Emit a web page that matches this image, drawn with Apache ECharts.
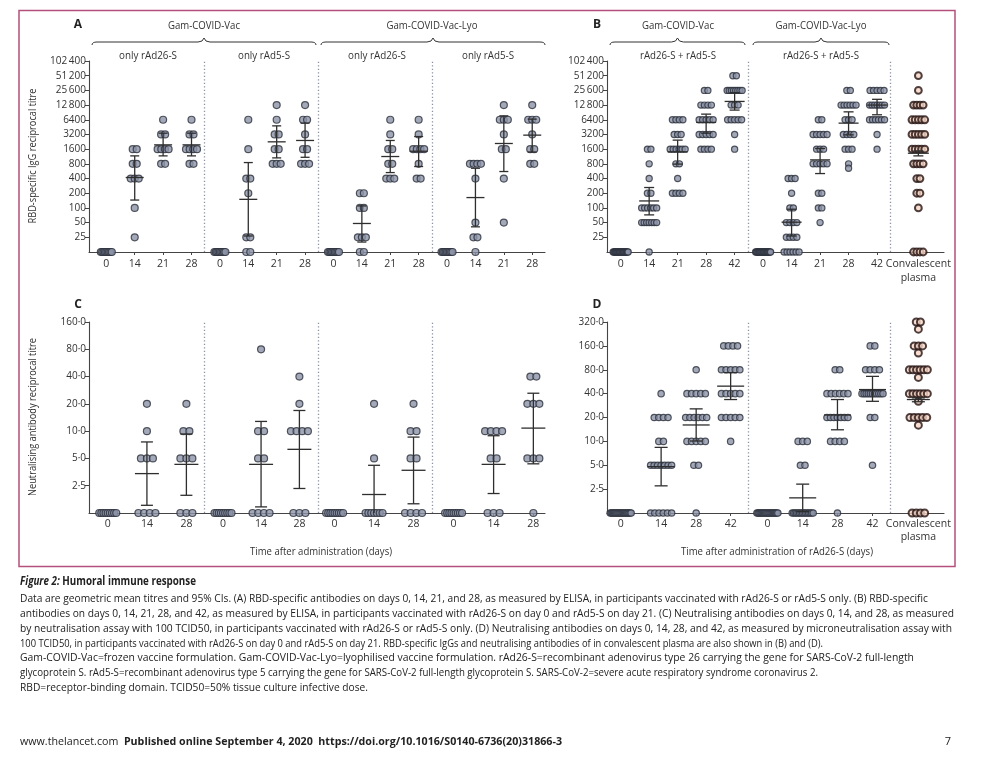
<!DOCTYPE html>
<html><head><meta charset="utf-8">
<script src="https://cdn.jsdelivr.net/npm/echarts@6/dist/echarts.min.js"></script>
<style>html,body{margin:0;padding:0;background:#fff}#chart{width:985px;height:775px}</style>
</head><body><div id="chart"></div>
<script>
// ================= DATA =================
const A_DAYS = ['0','14','21','28'];
const B_DAYS = ['0','14','21','28','42'];
const C_DAYS = ['0','14','28'];
const D_DAYS = ['0','14','28','42'];
const AB_TICKS = ['25','50','100','200','400','800','1600','3200','6400','12\u2009800','25\u2009600','51\u2009200','102\u2009400'];
const C_TICKS = ['2·5','5·0','10·0','20·0','40·0','80·0','160·0'];
const D_TICKS = ['2·5','5·0','10·0','20·0','40·0','80·0','160·0','320·0'];
const CONV_LABEL = 'Convalescent\nplasma';

// Panel A – RBD IgG, n=9 per group; rows = days 0,14,21,28
const A_VAC_26 = [
  [0,0,0,0,0,0,0,0,0],
  [1600,1600,800,800,400,400,400,100,25],
  [6400,3200,3200,1600,1600,1600,1600,800,800],
  [6400,3200,3200,1600,1600,1600,1600,800,800]];
const A_VAC_26_GMT = [null,420,1960,1960], A_VAC_26_LO = [null,145,1165,1165], A_VAC_26_HI = [null,1165,3400,3400];
const A_VAC_5 = [
  [0,0,0,0,0,0,0,0,0],
  [6400,1600,400,400,200,25,25,0,0],
  [12800,6400,3200,3200,1600,1600,800,800,800],
  [12800,6400,6400,3200,1600,1600,800,800,800]];
const A_VAC_5_GMT = [null,150,2260,2410], A_VAC_5_LO = [null,26.6,1060,1090], A_VAC_5_HI = [null,850,4800,5460];
const A_LYO_26 = [
  [0,0,0,0,0,0,0,0,0],
  [200,200,100,100,25,25,25,0,0],
  [6400,3200,1600,1600,800,800,400,400,400],
  [6400,3200,1600,1600,1600,1600,800,400,400]];
const A_LYO_26_GMT = [null,48,1130,1450], A_LYO_26_LO = [null,20,530,705], A_LYO_26_HI = [null,110,2410,2900];
const A_LYO_5 = [
  [0,0,0,0,0,0,0,0,0],
  [800,800,800,800,400,50,25,25,0],
  [12800,6400,6400,6400,3200,1600,1600,400,50],
  [12800,6400,6400,6400,3200,1600,1600,800,800]];
const A_LYO_5_GMT = [null,163,2090,3100], A_LYO_5_LO = [null,41,557,1400], A_LYO_5_HI = [null,650,7700,6600];

// Panel B – RBD IgG, prime-boost, n=20; rows = days 0,14,21,28,42
const B_VAC = [
  [0,0,0,0,0,0,0,0,0,0,0,0,0,0,0,0,0,0,0,0],
  [1600,1600,800,400,200,200,100,100,100,100,100,100,50,50,50,50,50,50,50,0],
  [6400,6400,6400,6400,3200,3200,3200,1600,1600,1600,1600,1600,1600,800,800,400,200,200,200,200],
  [25600,25600,12800,12800,12800,12800,6400,6400,6400,6400,6400,3200,3200,3200,3200,3200,1600,1600,1600,1600],
  [51200,51200,25600,25600,25600,25600,25600,25600,25600,25600,12800,12800,12800,6400,6400,6400,6400,6400,3200,1600]];
const B_VAC_GMT = [null,139,1410,5650,15200], B_VAC_LO = [null,72,790,3400,10100], B_VAC_HI = [null,262,2450,8350,23000];
const B_LYO = [
  [0,0,0,0,0,0,0,0,0,0,0,0,0,0,0,0,0,0,0,0],
  [400,400,400,200,100,100,50,50,50,50,25,25,25,25,0,0,0,0,0,0],
  [6400,6400,3200,3200,3200,3200,3200,1600,1600,1600,800,800,800,800,800,200,200,100,100,50],
  [25600,25600,12800,12800,12800,12800,12800,12800,6400,6400,6400,3200,3200,3200,3200,1600,1600,1600,800,650],
  [25600,25600,25600,25600,25600,12800,12800,12800,12800,12800,12800,12800,6400,6400,6400,6400,6400,6400,3200,1600]];
const B_LYO_GMT = [null,51,965,5460,12800], B_LYO_LO = [null,26.6,506,3140,8100], B_LYO_HI = [null,94,1650,9300,16800];
const B_CONV = [51200,25600,12800,12800,12800,12800,6400,6400,6400,6400,6400,3200,3200,3200,3200,3200,
  1600,1600,1600,1600,1600,800,800,800,800,400,400,200,200,100,0,0,0,0];
const B_CONV_GMT = 1320, B_CONV_LO = 1165, B_CONV_HI = 1470;

// Panel C – neutralising antibodies, n=9; rows = days 0,14,28
const C_VAC_26 = [[0,0,0,0,0,0,0,0,0],[20,10,5,5,5,0,0,0,0],[20,10,10,5,5,5,0,0,0]];
const C_VAC_26_GMT = [null,3.4,4.3], C_VAC_26_LO = [null,1.52,1.96], C_VAC_26_HI = [null,7.6,9.3];
const C_VAC_5 = [[0,0,0,0,0,0,0,0,0],[80,10,10,5,5,0,0,0,0],[40,20,10,10,10,10,0,0,0]];
const C_VAC_5_GMT = [null,4.3,6.3], C_VAC_5_LO = [null,1.46,2.33], C_VAC_5_HI = [null,12.8,16.9];
const C_LYO_26 = [[0,0,0,0,0,0,0,0,0],[20,5,0,0,0,0,0,0,0],[20,10,10,5,5,0,0,0,0]];
const C_LYO_26_GMT = [null,2.0,3.7], C_LYO_26_LO = [null,0.93,1.58], C_LYO_26_HI = [null,4.2,8.6];
const C_LYO_5 = [[0,0,0,0,0,0,0,0,0],[10,10,10,10,5,5,0,0,0],[40,40,20,20,20,5,5,5,0]];
const C_LYO_5_GMT = [null,4.3,10.8], C_LYO_5_LO = [null,2.05,4.36], C_LYO_5_HI = [null,8.9,26.2];

// Panel D – neutralising antibodies, prime-boost, n=20; rows = days 0,14,28,42
const D_VAC = [
  [0,0,0,0,0,0,0,0,0,0,0,0,0,0,0,0,0,0,0,0],
  [40,20,20,20,20,10,10,5,5,5,5,5,5,5,0,0,0,0,0,0],
  [80,40,40,40,40,40,20,20,20,20,20,20,10,10,10,10,10,5,5,0],
  [160,160,160,160,80,80,80,80,80,40,40,40,40,40,20,20,20,20,20,10]];
const D_VAC_GMT = [null,4.8,16.1,49.7], D_VAC_LO = [null,2.75,10.1,33.7], D_VAC_HI = [null,8.4,25.7,73.6];
const D_LYO = [
  [0,0,0,0,0,0,0,0,0,0,0,0,0,0,0,0,0,0,0,0],
  [10,10,10,5,5,0,0,0,0,0,0,0,0,0,0,0,0,0,0,0],
  [80,80,40,40,40,40,40,40,20,20,20,20,20,20,20,10,10,10,10,0],
  [160,160,80,80,80,80,40,40,40,40,40,40,40,40,40,40,40,20,20,5]];
const D_LYO_GMT = [null,1.94,21.5,45], D_LYO_LO = [null,1.3,14,32], D_LYO_HI = [null,2.89,33.7,66];
const D_CONV = [320,320,260,160,160,160,130,80,80,80,80,80,80,64,40,40,40,40,40,40,32,20,20,20,20,20,16,0,0,0,0];
const D_CONV_GMT = 33.7, D_CONV_LO = 31.6, D_CONV_HI = 35.4;

// ================= LAYOUT =================
const FONT = '"Open Sans", "DejaVu Sans", sans-serif';
const DOT = {color:'#8d93a7', borderColor:'#2b2f3b', borderWidth:1.2};
const CONVDOT = {color:'#f5d6c6', borderColor:'#241210', borderWidth:2};
const INK = '#333333';
const C_POS = [[0.05,1.43,2.82],[4.11,5.45,6.8],[8.04,9.43,10.82],[12.23,13.64,15.04]];
const D_POS = [[0,1.42,2.65,3.86],[5.15,6.39,7.61,8.84]];
const CONV_X = 10.45;
const SEP_AC = [3.45, 7.45, 11.49];
const SEP_BD = [4.48, 9.48];
const CFG = {
  A:{sp:4, max:11, unit:28.4, size:7, mean:18, cap:9},
  B:{sp:3.5, max:15, unit:28.5, size:6.2, mean:20, cap:10},
  Bc:{sp:3.2, max:14, unit:28.5, size:6.8},
  C:{sp:6, max:17, unit:28.4, size:7, mean:24, cap:12},
  D:{sp:4.6, max:21, unit:28.5, size:6.4, mean:27, cap:13},
  Dc:{sp:4.2, max:18, unit:28.5, size:7}
};

function lv(v, base){ return v > 0 ? Math.log2(v / base) : -1; }
function swarm(values, cx, base, cfg, out){
  const counts = new Map();
  values.forEach(v => counts.set(v, (counts.get(v) || 0) + 1));
  counts.forEach((m, v) => {
    const span = m > 1 ? Math.min((m - 1) * cfg.sp, cfg.max) : 0;
    const step = m > 1 ? span / (m - 1) : 0;
    for (let k = 0; k < m; k++) out.push([cx + (-span / 2 + k * step) / cfg.unit, lv(v, base)]);
  });
}
function bar(x, g, lo, hi, base, out){ if (g != null) out.push([x, lv(g, base), lv(lo, base), lv(hi, base)]); }

function renderBars(cfg, yMin, meanW){
  return function(params, api){
    const x = api.value(0), m = api.value(1), lo = api.value(2), hi = api.value(3);
    const pm = api.coord([x, m]), ph = api.coord([x, hi]), pl = api.coord([x, Math.max(lo, yMin)]);
    const st = {stroke:'#2e2e2e', lineWidth:1.3};
    const mw = meanW || cfg.mean;
    const ch = [
      {type:'line', shape:{x1:pm[0], y1:ph[1], x2:pm[0], y2:pl[1]}, style:st},
      {type:'line', shape:{x1:pm[0]-cfg.cap/2, y1:ph[1], x2:pm[0]+cfg.cap/2, y2:ph[1]}, style:st},
      {type:'line', shape:{x1:pm[0]-mw/2, y1:pm[1], x2:pm[0]+mw/2, y2:pm[1]}, style:st}];
    if (lo >= yMin) ch.push({type:'line', shape:{x1:pm[0]-cfg.cap/2, y1:pl[1], x2:pm[0]+cfg.cap/2, y2:pl[1]}, style:st});
    return {type:'group', children:ch};
  };
}

// ---- build points ----
const ptsA = [], barsA = [];
[[A_VAC_26,A_VAC_26_GMT,A_VAC_26_LO,A_VAC_26_HI],[A_VAC_5,A_VAC_5_GMT,A_VAC_5_LO,A_VAC_5_HI],
 [A_LYO_26,A_LYO_26_GMT,A_LYO_26_LO,A_LYO_26_HI],[A_LYO_5,A_LYO_5_GMT,A_LYO_5_LO,A_LYO_5_HI]].forEach((s, g) => {
  s[0].forEach((vals, d) => { const x = g * 4 + d; swarm(vals, x, 25, CFG.A, ptsA); bar(x, s[1][d], s[2][d], s[3][d], 25, barsA); });
});
const ptsB = [], barsB = [], ptsBc = [], barsBc = [];
[[B_VAC,B_VAC_GMT,B_VAC_LO,B_VAC_HI],[B_LYO,B_LYO_GMT,B_LYO_LO,B_LYO_HI]].forEach((s, g) => {
  s[0].forEach((vals, d) => { const x = g * 5 + d; swarm(vals, x, 25, CFG.B, ptsB); bar(x, s[1][d], s[2][d], s[3][d], 25, barsB); });
});
swarm(B_CONV, CONV_X, 25, CFG.Bc, ptsBc); bar(CONV_X, B_CONV_GMT, B_CONV_LO, B_CONV_HI, 25, barsBc);
const ptsC = [], barsC = [];
[[C_VAC_26,C_VAC_26_GMT,C_VAC_26_LO,C_VAC_26_HI],[C_VAC_5,C_VAC_5_GMT,C_VAC_5_LO,C_VAC_5_HI],
 [C_LYO_26,C_LYO_26_GMT,C_LYO_26_LO,C_LYO_26_HI],[C_LYO_5,C_LYO_5_GMT,C_LYO_5_LO,C_LYO_5_HI]].forEach((s, g) => {
  s[0].forEach((vals, d) => { const x = C_POS[g][d]; swarm(vals, x, 2.5, CFG.C, ptsC); bar(x, s[1][d], s[2][d], s[3][d], 2.5, barsC); });
});
const ptsD = [], barsD = [], ptsDc = [], barsDc = [];
[[D_VAC,D_VAC_GMT,D_VAC_LO,D_VAC_HI],[D_LYO,D_LYO_GMT,D_LYO_LO,D_LYO_HI]].forEach((s, g) => {
  s[0].forEach((vals, d) => { const x = D_POS[g][d]; swarm(vals, x, 2.5, CFG.D, ptsD); bar(x, s[1][d], s[2][d], s[3][d], 2.5, barsD); });
});
swarm(D_CONV, CONV_X, 2.5, CFG.Dc, ptsDc); bar(CONV_X, D_CONV_GMT, D_CONV_LO, D_CONV_HI, 2.5, barsDc);

// ---- axes ----
function nearestLabel(list, labels){ return v => { let bi = 0; list.forEach((p, i) => { if (Math.abs(p - v) < Math.abs(list[bi] - v)) bi = i; }); return labels[bi]; }; }
const A_XV = [...Array(16).keys()];
const A_XL = A_XV.map(i => A_DAYS[i % 4]);
const B_XV = [...Array(10).keys(), CONV_X];
const B_XL = B_XV.map((v, i) => i < 10 ? B_DAYS[i % 5] : CONV_LABEL);
const C_XV = C_POS.flat();
const C_XL = C_XV.map((v, i) => C_DAYS[i % 3]);
const D_XV = [...D_POS.flat(), CONV_X];
const D_XL = D_XV.map((v, i) => i < 8 ? D_DAYS[i % 4] : CONV_LABEL);

function xAx(gi, min, max, vals, labels, lh){
  return {type:'value', gridIndex:gi, min, max,
    axisLine:{show:true, onZero:false, lineStyle:{color:'#444', width:1.1}},
    axisTick:{show:true, customValues:vals, length:3, lineStyle:{color:'#444', width:1}},
    axisLabel:{show:true, customValues:vals, formatter:nearestLabel(vals, labels), color:'#333', fontSize:10.5, fontFamily:FONT, margin:5, lineHeight:lh},
    splitLine:{show:false}};
}
function yAx(gi, max, labels){
  const vals = labels.map((_, i) => i);
  return {type:'value', gridIndex:gi, min:-1, max,
    axisLine:{show:true, onZero:false, lineStyle:{color:'#444', width:1.1}},
    axisTick:{show:true, customValues:vals, length:4, lineStyle:{color:'#444', width:1}},
    axisLabel:{show:true, customValues:vals, formatter:v => labels[Math.round(v)], color:'#333', fontSize:10, fontFamily:FONT, margin:3},
    splitLine:{show:false}};
}

function sepLine(seps){
  return {silent:true, symbol:['none','none'], label:{show:false}, animation:false,
    lineStyle:{type:[1.3,2.2], color:'#8d92a0', width:1.3}, data:seps.map(x => ({xAxis:x}))};
}
function dots(i, data, cfg, style, seps){
  const s = {type:'scatter', xAxisIndex:i, yAxisIndex:i, data, symbolSize:cfg.size, itemStyle:style, z:3, silent:true};
  if (seps) s.markLine = sepLine(seps);
  return s;
}
function bars(i, data, cfg, yMin, meanW){
  return {type:'custom', xAxisIndex:i, yAxisIndex:i, data, renderItem:renderBars(cfg, yMin, meanW), z:5, silent:true, encode:{x:0, y:1}};
}

// ---- text helpers ----
const mctx = document.createElement('canvas').getContext('2d');
function tw(t, font){ mctx.font = font; return mctx.measureText(t).width; }
function fitText(t, x, y, size, target, opt){
  opt = opt || {};
  const font = (opt.style || 'normal') + ' ' + (opt.weight || 'normal') + ' ' + size + 'px ' + FONT;
  const s = target ? target / tw(t, font) : 1;
  return {type:'text', x, y, rotation:opt.rotation || 0, scaleX:s, silent:true, z:10,
    style:{text:t, font, fill:opt.fill || INK, align:opt.align || 'center', verticalAlign:'middle'}};
}
function segLine(segs, x0, y, fill, sc){
  const ws = segs.map(s => tw(s.t, s.f));
  let x = x0;
  return segs.map((s, i) => { const el = {type:'text', x, y, scaleX:sc, silent:true, z:10,
    style:{text:s.t, font:s.f, fill, align:'left', verticalAlign:'middle'}}; x += ws[i] * sc; return el; });
}
function scaleFor(segs, x0, x1){ return (x1 - x0) / segs.reduce((a, s) => a + tw(s.t, s.f), 0); }
function brace(x1, x2, y){
  const m = (x1 + x2) / 2;
  const st = {fill:null, stroke:'#333', lineWidth:1};
  const q = (ax, ay, cx, cy, bx, by) => ({type:'bezierCurve', silent:true, shape:{x1:ax, y1:ay, cpx1:cx, cpy1:cy, x2:bx, y2:by}, style:st});
  const l = (ax, ay, bx, by) => ({type:'line', silent:true, shape:{x1:ax, y1:ay, x2:bx, y2:by}, style:st});
  return {type:'group', silent:true, z:10, children:[
    q(x1, y+3, x1, y, x1+5, y), l(x1+5, y, m-6, y), q(m-6, y, m-1, y, m, y-4),
    q(m, y-4, m+1, y, m+6, y), l(m+6, y, x2-5, y), q(x2-5, y, x2, y, x2, y+3)]};
}

const CAP_FONT = '11px ' + FONT;
const CAPTION = [
  'Data are geometric mean titres and 95% CIs. (A) RBD-specific antibodies on days 0, 14, 21, and 28, as measured by ELISA, in participants vaccinated with rAd26-S or rAd5-S only. (B) RBD-specific',
  'antibodies on days 0, 14, 21, 28, and 42, as measured by ELISA, in participants vaccinated with rAd26-S on day 0 and rAd5-S on day 21. (C) Neutralising antibodies on days 0, 14, and 28, as measured',
  'by neutralisation assay with 100 TCID50, in participants vaccinated with rAd26-S or rAd5-S only. (D) Neutralising antibodies on days 0, 14, 28, and 42, as measured by microneutralisation assay with',
  '100 TCID50, in participants vaccinated with rAd26-S on day 0 and rAd5-S on day 21. RBD-specific IgGs and neutralising antibodies of in convalescent plasma are also shown in (B) and (D).',
  'Gam-COVID-Vac=frozen vaccine formulation. Gam-COVID-Vac-Lyo=lyophilised vaccine formulation. rAd26-S=recombinant adenovirus type 26 carrying the gene for SARS-CoV-2 full-length',
  'glycoprotein S. rAd5-S=recombinant adenovirus type 5 carrying the gene for SARS-CoV-2 full-length glycoprotein S. SARS-CoV-2=severe acute respiratory syndrome coronavirus 2.',
  'RBD=receptor-binding domain. TCID50=50% tissue culture infective dose.'
];
const CAP_ENDS = [928, 954, 952, 823, 914, 818, 368];
const TITLE_SEGS = [{t:'Figure 2:', f:'italic bold 11.5px ' + FONT}, {t:' Humoral immune response', f:'bold 11.5px ' + FONT}];
const FOOT_SEGS = [{t:'www.thelancet.com', f:CAP_FONT}, {t:'  Published online September 4, 2020', f:'bold ' + CAP_FONT},
                   {t:'  https://doi.org/10.1016/S0140-6736(20)31866-3', f:'bold ' + CAP_FONT}];

const graphics = [
  {type:'rect', silent:true, z:1, shape:{x:19, y:10.5, width:936, height:556}, style:{fill:null, stroke:'#b4507e', lineWidth:1.5}},
  fitText('A', 78, 25, 12, null, {weight:'bold', fill:'#222'}),
  fitText('B', 597, 25, 12, null, {weight:'bold', fill:'#222'}),
  fitText('C', 78, 305, 12, null, {weight:'bold', fill:'#222'}),
  fitText('D', 597, 305, 12, null, {weight:'bold', fill:'#222'}),
  fitText('Gam-COVID-Vac', 204, 26, 10, 72),
  fitText('Gam-COVID-Vac-Lyo', 432, 26, 10, 91),
  fitText('Gam-COVID-Vac', 678, 26, 10, 72),
  fitText('Gam-COVID-Vac-Lyo', 821, 26, 10, 91),
  brace(92, 316, 42), brace(321, 545, 42), brace(610, 745, 42), brace(753, 889, 42),
  fitText('only rAd26-S', 148, 56, 10, 58),
  fitText('only rAd5-S', 264, 56, 10, 52),
  fitText('only rAd26-S', 377, 56, 10, 58),
  fitText('only rAd5-S', 488, 56, 10, 52),
  fitText('rAd26-S + rAd5-S', 678, 56, 10, 76),
  fitText('rAd26-S + rAd5-S', 821, 56, 10, 76),
  fitText('RBD-specific IgG reciprocal titre', 33, 156, 10, 135, {rotation:Math.PI/2}),
  fitText('Neutralising antibody reciprocal titre', 33, 417, 10, 158, {rotation:Math.PI/2}),
  fitText('Time after administration (days)', 321, 552, 10, 142),
  fitText('Time after administration of rAd26-S (days)', 777, 552, 10, 192),
  ...segLine(TITLE_SEGS, 20, 582, '#222', scaleFor(TITLE_SEGS, 20, 196)),
  ...CAPTION.flatMap((c, i) => { const seg = [{t:c, f:CAP_FONT}]; return segLine(seg, 20, 599 + i * 14.8, '#222', scaleFor(seg, 20, CAP_ENDS[i])); }),
  ...segLine(FOOT_SEGS, 20, 742, '#222', scaleFor(FOOT_SEGS, 20, 562)),
  fitText('7', 948, 742, 11, null, {fill:'#222'})
];

const option = {
  animation:false,
  backgroundColor:'#ffffff',
  grid:[
    {left:89, top:61, width:456, height:191, containLabel:false, outerBoundsMode:'none'},
    {left:607, top:61, width:337, height:191, containLabel:false, outerBoundsMode:'none'},
    {left:89, top:322, width:456, height:191, containLabel:false, outerBoundsMode:'none'},
    {left:607, top:322, width:337, height:191, containLabel:false, outerBoundsMode:'none'}
  ],
  xAxis:[
    xAx(0, -0.61, 15.45, A_XV, A_XL, 14),
    xAx(1, -0.48, 11.35, B_XV, B_XL, 14),
    xAx(2, -0.61, 15.45, C_XV, C_XL, 13),
    xAx(3, -0.48, 11.35, D_XV, D_XL, 13)
  ],
  yAxis:[ yAx(0, 12, AB_TICKS), yAx(1, 12, AB_TICKS), yAx(2, 6, C_TICKS), yAx(3, 7, D_TICKS) ],
  series:[
    dots(0, ptsA, CFG.A, DOT, SEP_AC), bars(0, barsA, CFG.A, -1),
    dots(1, ptsB, CFG.B, DOT, SEP_BD), dots(1, ptsBc, CFG.Bc, CONVDOT), bars(1, barsB, CFG.B, -1), bars(1, barsBc, CFG.B, -1, 21),
    dots(2, ptsC, CFG.C, DOT, SEP_AC), bars(2, barsC, CFG.C, -1),
    dots(3, ptsD, CFG.D, DOT, SEP_BD), dots(3, ptsDc, CFG.Dc, CONVDOT), bars(3, barsD, CFG.D, -1), bars(3, barsDc, CFG.D, -1, 23)
  ],
  graphic:{elements:graphics}
};
const chart = echarts.init(document.getElementById('chart'));
chart.setOption(option);
</script></body></html>
